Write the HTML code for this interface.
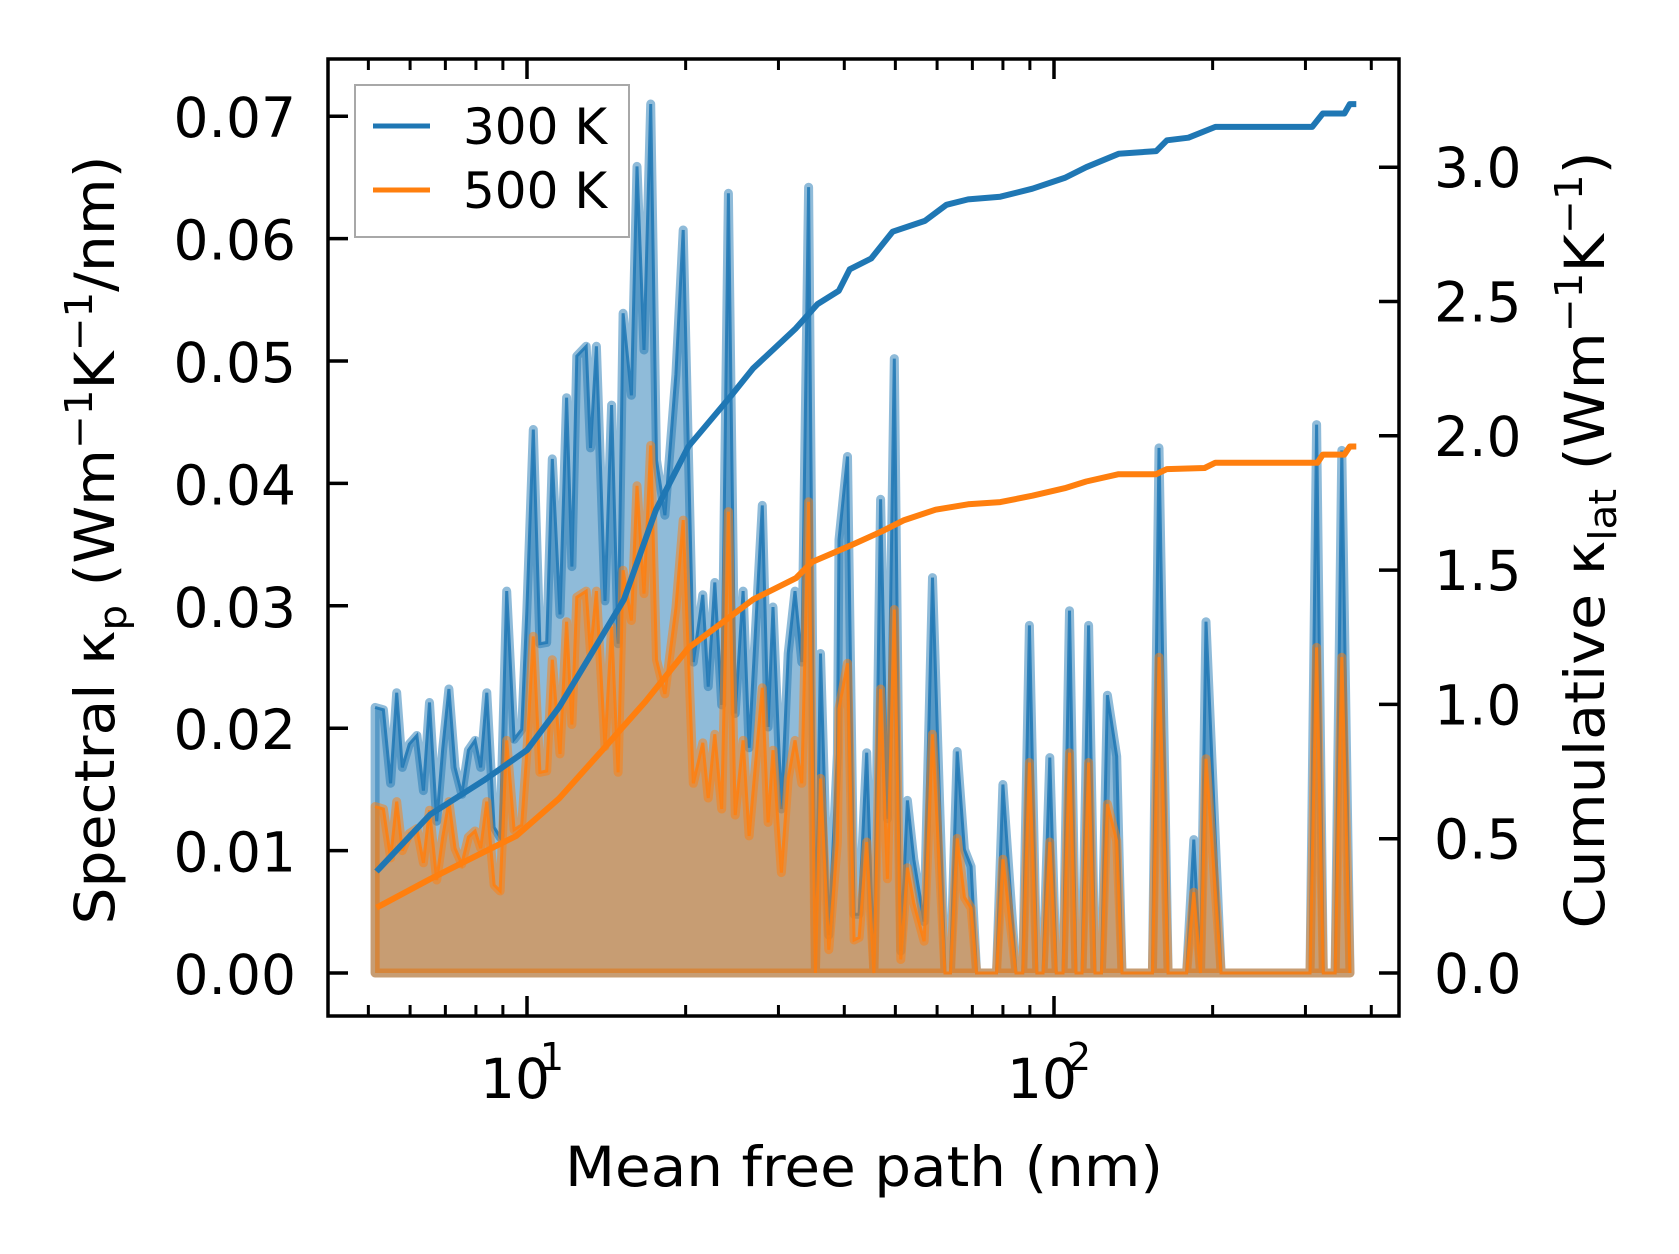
<!DOCTYPE html>
<html><head><meta charset="utf-8"><style>
html,body{margin:0;padding:0;background:#fff;}
svg{display:block;font-family:"DejaVu Sans","Liberation Sans",sans-serif;}
</style></head><body>
<svg id="chart" width="1679" height="1254" viewBox="0 0 1679 1254" xmlns="http://www.w3.org/2000/svg">
<rect width="1679" height="1254" fill="#fff"/>
<g id="plot"></g>
<g id="axes"></g>
<text transform="translate(114,540) rotate(-90)" text-anchor="middle" font-size="55" textLength="769" lengthAdjust="spacingAndGlyphs">Spectral κ<tspan font-size="38" dy="12">p</tspan><tspan dy="-12"> (Wm</tspan><tspan font-size="38" dy="-22">−1</tspan><tspan dy="22">K</tspan><tspan font-size="38" dy="-22">−1</tspan><tspan dy="22">/nm)</tspan></text>
<text transform="translate(1604,540) rotate(-90)" text-anchor="middle" font-size="55" textLength="777" lengthAdjust="spacingAndGlyphs">Cumulative κ<tspan font-size="38" dy="12">lat</tspan><tspan dy="-12"> (Wm</tspan><tspan font-size="38" dy="-22">−1</tspan><tspan dy="22">K</tspan><tspan font-size="38" dy="-22">−1</tspan><tspan dy="22">)</tspan></text>
<text x="864" y="1186" text-anchor="middle" font-size="55" textLength="598" lengthAdjust="spacingAndGlyphs">Mean free path (nm)</text>
<g>
<rect x="355" y="85" width="274" height="152" fill="#fff" fill-opacity="0.8" stroke="#a8a8a8" stroke-width="2"/>
<line x1="373" y1="126" x2="430" y2="126" stroke="#1f77b4" stroke-width="5"/>
<text x="463" y="144" font-size="50">300 K</text>
<line x1="373" y1="190" x2="430" y2="190" stroke="#ff7f0e" stroke-width="5"/>
<text x="463" y="208" font-size="50">500 K</text>
</g>
</svg>
<script>
// Spectral data (mean free path in nm, kappa_p in W m^-1 K^-1 / nm)
const specMfp = [5.15,5.34,5.51,5.66,5.80,5.98,6.18,6.36,6.53,6.74,6.92,7.11,7.30,7.52,7.74,7.97,8.17,8.39,8.66,8.89,9.15,9.45,9.77,9.99,10.28,10.58,10.90,11.17,11.55,11.89,12.17,12.43,12.95,13.20,13.54,14.06,14.47,14.89,15.22,15.78,16.17,16.67,17.17,17.61,18.27,18.81,19.17,19.79,20.68,21.56,22.07,22.72,23.41,24.11,24.83,25.71,26.39,27.96,28.67,29.30,30.39,31.30,32.25,33.22,34.22,35.26,36.05,37.39,38.81,39.09,40.56,41.76,42.68,44.12,45.52,46.88,48.29,49.76,51.2,52.7,54.2,56.7,58.8,62.1,63.6,65.5,67.6,69.6,71.3,77.8,80.0,84.7,87.2,89.8,92.8,95.3,98.2,101.0,104.0,107.0,110.1,113.0,116.3,119.6,123.0,126.3,131.5,134.6,153.7,158.2,164.6,178.5,184.2,189.7,194.3,207.5,306,315,324.3,341.5,351.6,364.5];
const spec300 = [0.0217,0.0215,0.0155,0.0229,0.0168,0.0187,0.0194,0.0149,0.0221,0.0124,0.0183,0.0232,0.0168,0.0146,0.0182,0.0190,0.0168,0.0229,0.0119,0.0111,0.0312,0.0191,0.0199,0.0295,0.0444,0.0269,0.0270,0.0420,0.0293,0.0470,0.0332,0.0504,0.0512,0.0429,0.0512,0.0304,0.0464,0.0269,0.0539,0.0472,0.0659,0.0509,0.0710,0.0419,0.0374,0.0444,0.0489,0.0607,0.0254,0.0309,0.0234,0.0319,0.0219,0.0637,0.0212,0.0312,0.0184,0.0382,0.0201,0.0299,0.0134,0.0261,0.0312,0.0254,0.0642,0.0,0.0261,0.0031,0.0179,0.0354,0.0422,0.0048,0.0048,0.0180,0.0,0.0387,0.0126,0.0502,0.0018,0.0141,0.0093,0.0042,0.0323,0,0,0.0181,0.0101,0.0087,0,0,0.0154,0,0,0.0284,0,0,0.0176,0,0,0.0296,0,0,0.0284,0,0,0.0227,0.0177,0,0,0.0429,0,0,0.0109,0,0.0287,0,0,0.0448,0,0,0.0427,0];
const spec500 = [0.0136,0.0134,0.0094,0.0140,0.0100,0.0114,0.0118,0.0090,0.0133,0.0076,0.0111,0.0140,0.0102,0.0089,0.0111,0.0116,0.0102,0.0140,0.0072,0.0067,0.0190,0.0117,0.0121,0.0180,0.0275,0.0164,0.0165,0.0256,0.0179,0.0287,0.0203,0.0307,0.0312,0.0262,0.0312,0.0185,0.0283,0.0164,0.0329,0.0288,0.0398,0.0310,0.0431,0.0256,0.0228,0.0271,0.0298,0.0370,0.0155,0.0188,0.0143,0.0195,0.0134,0.0377,0.0129,0.0190,0.0112,0.0233,0.0123,0.0182,0.0082,0.0159,0.0190,0.0155,0.0385,0.0,0.0159,0.0019,0.0107,0.0216,0.0253,0.0027,0.0029,0.0107,0.0,0.0232,0.0077,0.0297,0.0011,0.0086,0.0057,0.0026,0.0195,0,0,0.0110,0.0062,0.0053,0,0,0.0093,0,0,0.0172,0,0,0.0107,0,0,0.0180,0,0,0.0172,0,0,0.0138,0.0108,0,0,0.0258,0,0,0.0066,0,0.0175,0,0,0.0266,0,0,0.0258,0];
// Cumulative data (W m^-1 K^-1)
const cumMfp300 = [5.18,6.55,8.28,10,11.51,13.26,15.27,17.57,20.24,24.42,26.83,32.37,35.56,39.06,40.95,45.0,49.4,56.9,62.5,68.7,79.1,91.0,104.8,115.1,132.6,156.3,163.8,179.9,202.4,309.0,323.7,355.6,364.1,374.6];
const cum300 = [0.378,0.59,0.717,0.83,0.99,1.19,1.39,1.725,1.96,2.15,2.25,2.40,2.49,2.54,2.62,2.66,2.76,2.80,2.86,2.88,2.89,2.92,2.96,3.00,3.05,3.06,3.10,3.11,3.15,3.15,3.20,3.20,3.235,3.235];
const cumMfp500 = [5.18,6.55,8.28,9.54,11.51,13.90,16.77,20.24,26.83,32.37,34.74,40.95,47.2,51.8,59.6,68.7,79.1,91.0,104.8,115.1,132.6,156.3,163.8,193.1,202.4,316.2,323.7,355.6,364.1,374.6];
const cum500 = [0.243,0.35,0.45,0.51,0.65,0.83,1.01,1.21,1.39,1.47,1.53,1.59,1.645,1.685,1.725,1.745,1.753,1.777,1.805,1.83,1.857,1.857,1.876,1.88,1.90,1.90,1.93,1.93,1.96,1.96];
const leftTicks = [0,0.01,0.02,0.03,0.04,0.05,0.06,0.07];
const leftTickLabels = ["0.00","0.01","0.02","0.03","0.04","0.05","0.06","0.07"];
const rightTicks = [0,0.5,1.0,1.5,2.0,2.5,3.0];
const rightTickLabels = ["0.0","0.5","1.0","1.5","2.0","2.5","3.0"];
const xMajor = [10,100];
const xMinor = [5,6,7,8,9,20,30,40,50,60,70,80,90,200,300,400];

const NS = "http://www.w3.org/2000/svg";
const L = 328, R = 1399, T = 59, B = 1016;
const X = v => Math.log10(v) * 527;
const YL = v => 973 - v * 12240;
const YR = v => 973 - v * 268.6;
function mk(tag, attrs, parent) {
  const e = document.createElementNS(NS, tag);
  for (const k in attrs) e.setAttribute(k, attrs[k]);
  parent.appendChild(e);
  return e;
}
const plot = document.getElementById('plot');
const axes = document.getElementById('axes');

function spectral(vals, color, name) {
  let d = "M" + X(specMfp[0]).toFixed(1) + "," + YL(0);
  let l = "";
  specMfp.forEach((m, i) => {
    d += " L" + X(m).toFixed(1) + "," + YL(vals[i]).toFixed(1);
    l += (i ? " L" : "M") + X(m).toFixed(1) + "," + YL(vals[i]).toFixed(1);
  });
  d += " L" + X(specMfp[specMfp.length - 1]).toFixed(1) + "," + YL(0) + " Z";
  const f = mk('path', {d: d, fill: color, 'fill-opacity': 0.5, stroke: color, 'stroke-opacity': 0.5, 'stroke-width': 9, 'stroke-linejoin': 'round'}, plot);
  
  
  const p = mk('path', {d: l, fill: 'none', stroke: color, 'stroke-width': 3, 'stroke-opacity': 0.85}, plot);
  
  
}
spectral(spec300, '#1f77b4', 'spectral-300k');
spectral(spec500, '#ff7f0e', 'spectral-500k');

function cum(ms, vals, color, name) {
  let d = "";
  ms.forEach((m, i) => { d += (i ? " L" : "M") + X(m).toFixed(1) + "," + YR(vals[i]).toFixed(1); });
  const p = mk('path', {d: d, fill: 'none', stroke: color, 'stroke-width': 6, 'stroke-linejoin': 'round'}, plot);
  
  
}
cum(cumMfp300, cum300, '#1f77b4', 'cumulative-300k');
cum(cumMfp500, cum500, '#ff7f0e', 'cumulative-500k');

const fr = mk('rect', {x: L, y: T, width: R - L, height: B - T, fill: 'none', stroke: '#000', 'stroke-width': 3.5}, axes);



leftTicks.forEach((v, i) => {
  const y = YL(v);
  const t = mk('line', {x1: L, y1: y, x2: L + 20, y2: y, stroke: '#000', 'stroke-width': 3.5}, axes);
  
  
  const tx = mk('text', {x: 296, y: y + 21, 'text-anchor': 'end', 'font-size': 55}, axes);
  tx.textContent = leftTickLabels[i];
  
  
});
rightTicks.forEach((v, i) => {
  const y = YR(v);
  const t = mk('line', {x1: R - 20, y1: y, x2: R, y2: y, stroke: '#000', 'stroke-width': 3.5}, axes);
  
  
  const tx = mk('text', {x: 1434, y: y + 20, 'text-anchor': 'start', 'font-size': 55}, axes);
  tx.textContent = rightTickLabels[i];
  
  
});
xMajor.forEach(v => {
  const x = X(v);
  [[B, B - 20], [T, T + 20]].forEach(p => {
    const t = mk('line', {x1: x, y1: p[0], x2: x, y2: p[1], stroke: '#000', 'stroke-width': 3.5}, axes);
    
    
  });
  const tx = mk('text', {x: x - 12, y: 1098, 'text-anchor': 'middle', 'font-size': 55}, axes);
  tx.textContent = "10";
  
  
  const sp = mk('text', {x: x + 25, y: 1070, 'text-anchor': 'middle', 'font-size': 38}, axes);
  sp.textContent = String(Math.round(Math.log10(v)));
  
  
});
xMinor.forEach(v => {
  const x = X(v);
  if (x < L || x > R) return;
  [[B, B - 11], [T, T + 11]].forEach(p => {
    const t = mk('line', {x1: x, y1: p[0], x2: x, y2: p[1], stroke: '#000', 'stroke-width': 3}, axes);
    
    
  });
});
</script>
</body></html>
